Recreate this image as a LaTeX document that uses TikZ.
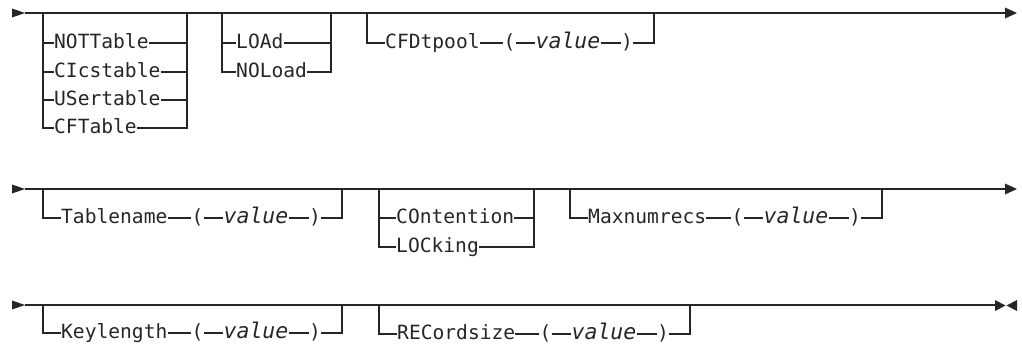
\documentclass[tikz,border=0pt]{standalone}
\usepackage{fontspec}
\setmonofont{DejaVu Sans Mono}
\usetikzlibrary{arrows.meta}

\tikzset{
  rail/.style={line width=1.2pt, black!85},
  kw/.style={inner sep=0pt, anchor=west, text height=11.5pt, text depth=0pt,
             font=\ttfamily\fontsize{19.6}{22}\selectfont, text=black!85},
  sym/.style={kw, anchor=center},
  val/.style={sym, font=\ttfamily\itshape\fontsize{21.5}{24}\selectfont},
  tip/.style={fill=black!85}
}

\begin{document}
\begin{tikzpicture}[x=1pt, y=-1pt]
    \useasboundingbox (0,0) rectangle (1022,349);

    % main lines
    \coordinate (r1s) at (25,13);  \coordinate (r1e) at (1005,13);
    \coordinate (r2s) at (25,189); \coordinate (r2e) at (1005,189);
    \coordinate (r3s) at (25,305); \coordinate (r3e) at (995,305);
    \draw[rail] (r1s) -- (r1e);
    \draw[rail] (r2s) -- (r2e);
    \draw[rail] (r3s) -- (r3e);
    \foreach \y in {13,189,305} {
        \fill[tip] (12,\y-4.5) -- (25,\y) -- (12,\y+4.5) -- cycle;
    }
    \fill[tip] (1005,7.5) -- (1017,13) -- (1005,18.5) -- cycle;
    \fill[tip] (1005,183.5) -- (1017,189) -- (1005,194.5) -- cycle;
    \fill[tip] (995,300) -- (1005.5,305.5) -- (995,311) -- cycle;
    \fill[tip] (1017,300) -- (1006.5,305.5) -- (1017,311) -- cycle;

    % table type
    \coordinate (tl) at (43,13);
    \coordinate (tr) at (187,13);
    \node[kw] (nott) at (54,43)  {NOTTable};
    \node[kw] (cics) at (54,72)  {CIcstable};
    \node[kw] (user) at (54,100) {USertable};
    \node[kw] (cft)  at (54,128) {CFTable};
    \draw[rail] (tl) |- (cft);
    \draw[rail] (tr) |- (cft);
    \foreach \b in {nott,cics,user} {
        \draw[rail] (\b -| tl) -- (\b) -- (\b -| tr);
    }

    % load
    \coordinate (ll) at (222,13);
    \coordinate (lr) at (331,13);
    \node[kw] (load)   at (236,43) {LOAd};
    \node[kw] (noload) at (236,72) {NOLoad};
    \draw[rail] (ll) |- (noload);
    \draw[rail] (lr) |- (noload);
    \draw[rail] (load -| ll) -- (load) -- (load -| lr);

    % contention
    \coordinate (cl) at (379,189);
    \coordinate (cr) at (534,189);
    \node[kw] (cont) at (396,218) {COntention};
    \node[kw] (lock) at (396,247) {LOCking};
    \draw[rail] (cl) |- (lock);
    \draw[rail] (cr) |- (lock);
    \draw[rail] (cont -| cl) -- (cont) -- (cont -| cr);

    % keyword ( value ) groups
    \foreach \n/\t/\lx/\rx/\my/\by in {cfd/CFDtpool/367/654/13/43,
            tbl/Tablename/43/342/189/218, max/Maxnumrecs/570/882/189/218,
            key/Keylength/43/342/305/333, rec/RECordsize/379/690/305/334} {
        \coordinate (\n-l) at (\lx,\my);
        \coordinate (\n-r) at (\rx,\my);
        \node[kw]  (\n)    at (\lx+18,\by)   {\t};
        \node[sym] (\n-lp) at (\rx-144.5,\by) {(};
        \node[val] (\n-v)  at (\rx-86,\by)   {value};
        \node[sym] (\n-rp) at (\rx-27,\by)   {)};
        \draw[rail] (\n-l) |- (\n) -- (\n-lp) -- (\n-v) -- (\n-rp)
            -- (\n-rp -| \n-r) -- (\n-r);
    }
\end{tikzpicture}
\end{document}
